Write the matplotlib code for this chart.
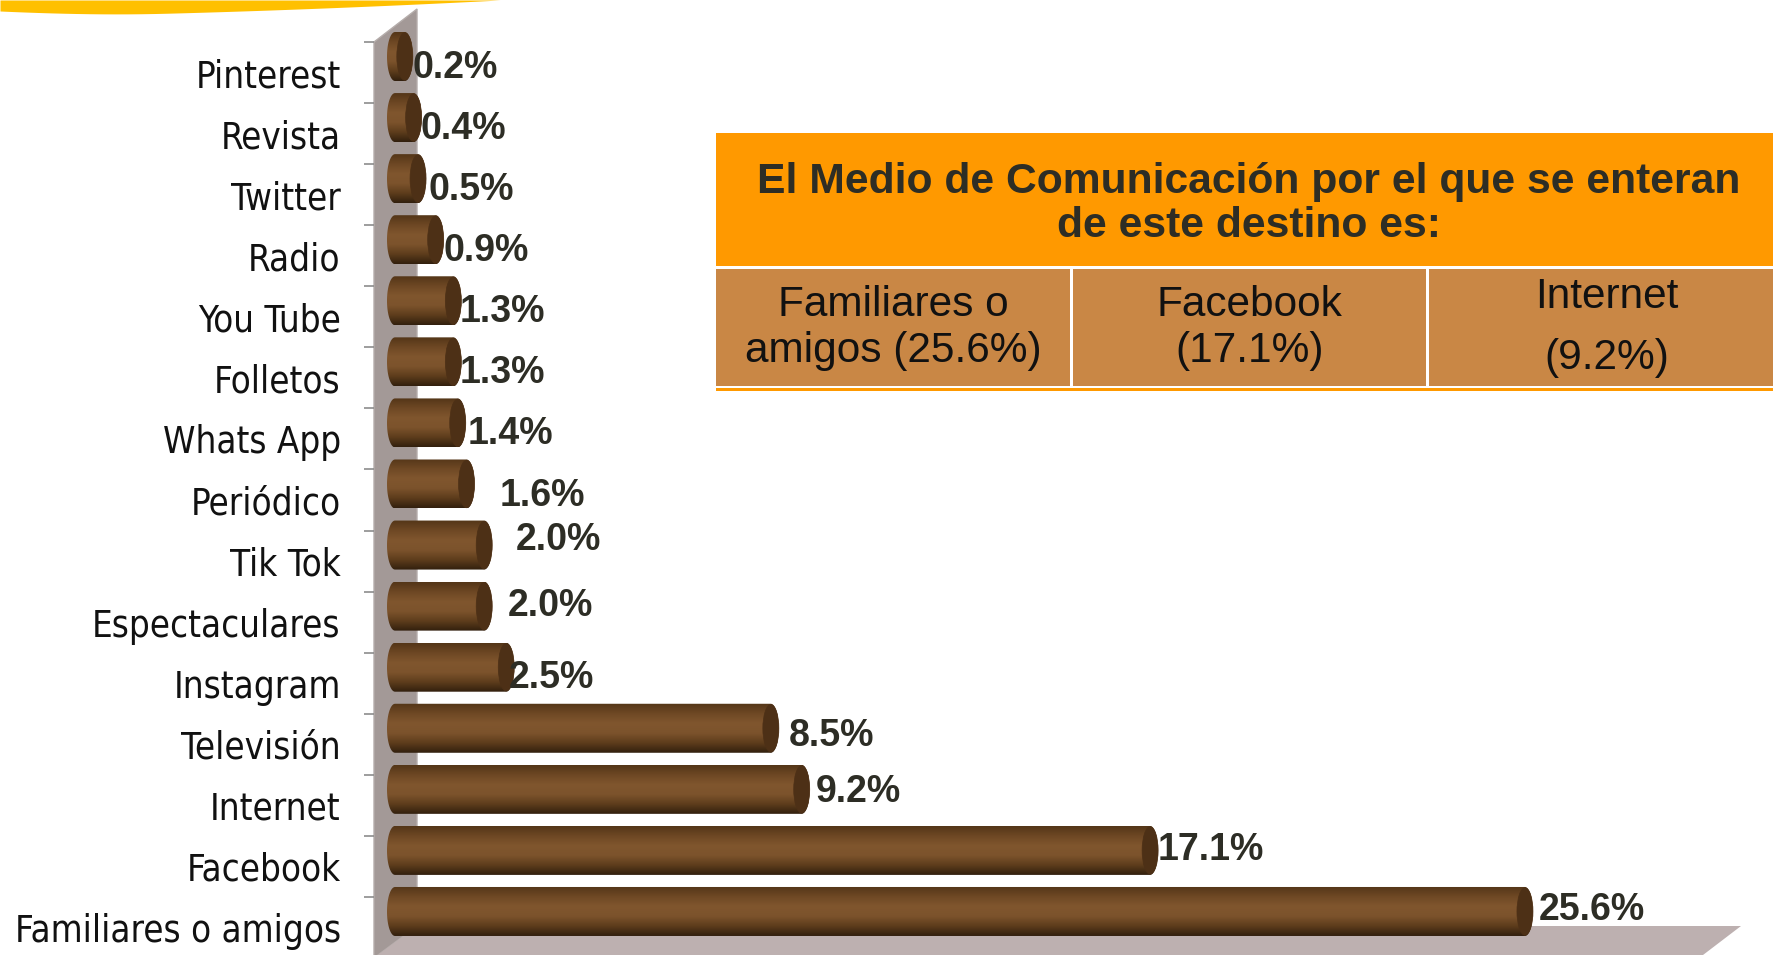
import numpy as np
import matplotlib
matplotlib.use('Agg')
import matplotlib.pyplot as plt
from matplotlib.colors import LinearSegmentedColormap
from matplotlib.patches import Polygon, Rectangle, PathPatch, Ellipse
from matplotlib.path import Path

medios = ['Pinterest', 'Revista', 'Twitter', 'Radio', 'You Tube', 'Folletos', 'Whats App',
          'Periódico', 'Tik Tok', 'Espectaculares', 'Instagram', 'Televisión', 'Internet',
          'Facebook', 'Familiares o amigos']
valores = [0.2, 0.4, 0.5, 0.9, 1.3, 1.3, 1.4, 1.6, 2.0, 2.0, 2.5, 8.5, 9.2, 17.1, 25.6]
etiquetas = ['0.2%', '0.4%', '0.5%', '0.9%', '1.3%', '1.3%', '1.4%', '1.6%', '2.0%', '2.0%',
             '2.5%', '8.5%', '9.2%', '17.1%', '25.6%']
titulo = 'El Medio de Comunicación por el que se enteran\nde este destino es:'
celdas = ['Familiares o\namigos (25.6%)', 'Facebook\n(17.1%)', 'Internet\n\n(9.2%)']

# the labels were moved by hand in the original, offsets in pixels
nudge_x = [0, -1, 2, 0, -2, -2, 2, 25, 24, 16, -5, 10, 6, 0, 6]
nudge_y = [11, 11, 11, 11, 11, 11, 11, 12, -5, 0, 11, 8, 3, 0, -1]

W, H = 1773, 955
PX = 44.1       # pixels per percent
X0 = 404        # pixel of 0%
ROW = 61.07
Y0 = 72.5       # pixel of first category

fig = plt.figure(figsize=(W / 100, H / 100), dpi=100, facecolor='white')

# background layer in pixels: swoosh, walls, table
bg = fig.add_axes([0, 0, 1, 1])
bg.set_xlim(0, W)
bg.set_ylim(H, 0)
bg.axis('off')

t = np.linspace(0, 1, 40)
sw_x = 500 * t
sw_y = 11 + 5 * np.sin(np.minimum(t * 3, 1) * np.pi / 2) - 16 * t ** 1.6
bg.fill_between(sw_x, 0, sw_y, color='#FFC000', lw=0)

bg.add_patch(Polygon([(374, 42), (417, 9), (417, 926), (374, 958)], fc='#A39997', ec='#B5ADAB', lw=1))
bg.add_patch(Polygon([(417, 926), (1741, 926), (1703, 955), (374, 958)], fc='#BDB0B0', ec='none'))

bg.add_patch(Rectangle((716, 133), W - 716, 133, fc='#FF9900', ec='none'))
cols = [(716, 1070), (1073, 1426), (1429, W)]
for (a, b), txt in zip(cols, celdas):
    bg.add_patch(Rectangle((a, 269), b - a, 117, fc='#C98745', ec='none'))
    if txt.count('\n') == 2:
        l1, l2 = txt.split('\n\n')
        bg.text((a + b) / 2 + 6, 297, l1, fontsize=30.5, family='Liberation Sans', ha='center', va='center', color='#111111')
        bg.text((a + b) / 2 + 6, 358, l2, fontsize=30.5, family='Liberation Sans', ha='center', va='center', color='#111111')
    else:
        bg.text((a + b) / 2, 328, txt, fontsize=30.5, family='Liberation Sans', ha='center', va='center',
                color='#111111', linespacing=1.17)
bg.add_patch(Rectangle((716, 388), W - 716, 3, fc='#FF9900', ec='none'))
bg.text(1249, 204, titulo, fontsize=30.7, family='Liberation Sans', weight='bold', ha='center', va='center',
        color='#2D2D25', linespacing=1.1)

# chart layer, full figure, data in percent / category index
ax = fig.add_axes([0, 0, 1, 1], facecolor='none')
ax.set_xlim(-X0 / PX, (W - X0) / PX)
ax.set_ylim((H - Y0) / ROW, -Y0 / ROW)

brown = LinearSegmentedColormap.from_list('cil', ['#543618', '#6E4824', '#80562E', '#7C532C', '#5E3D1C', '#33200E'])
grad = np.linspace(0, 1, 64).reshape(-1, 1)

bar_h = 49 / ROW
bar_off = 16 / ROW      # bars sit above the category centre (3D offset)
cap_w = 8 / PX
left = -17 / PX
a = np.linspace(-np.pi / 2, np.pi / 2, 30)

for i, (v, lab) in enumerate(zip(valores, etiquetas)):
    yc = i - bar_off
    xr = v - cap_w
    xl = left + cap_w
    xs = np.r_[xr + cap_w * np.cos(a), xl - cap_w * np.cos(a[::-1])]
    ys = np.r_[yc + bar_h / 2 * np.sin(a), yc + bar_h / 2 * np.sin(a[::-1])]
    body = PathPatch(Path(np.c_[xs, ys]), transform=ax.transData, fc='none', ec='none')
    ax.add_patch(body)
    im = ax.imshow(grad, cmap=brown, aspect='auto', interpolation='bilinear',
                   extent=(left, v, yc + bar_h / 2, yc - bar_h / 2), zorder=2)
    im.set_clip_path(body)
    ax.add_patch(Ellipse((xr, yc), 2 * cap_w, bar_h * 0.97, fc='#4D3016', ec='#4D3016', lw=0.5, zorder=3))
    ax.annotate(lab, (v, yc), xytext=(nudge_x[i], -nudge_y[i]), textcoords='offset pixels',
                fontsize=27, family='Liberation Sans', weight='bold', color='#2D2D25',
                ha='left', va='center', zorder=4)

ax.set_xlim(-X0 / PX, (W - X0) / PX)
ax.set_ylim((H - Y0) / ROW, -Y0 / ROW)

for s in ['top', 'right', 'bottom']:
    ax.spines[s].set_visible(False)
ax.spines['left'].set_position(('data', (374 - X0) / PX))
ax.spines['left'].set_visible(False)
ax.set_xticks([])
ax.set_yticks(range(len(medios)))
ax.set_yticklabels(medios, fontsize=26.3, family='DejaVu Sans', stretch='condensed', color='#111111')
ax.set_yticks(np.arange(len(medios)) - 0.5, minor=True)
ax.tick_params(axis='y', which='major', length=0, pad=24)
ax.tick_params(axis='y', which='minor', length=7.5, width=1.2, color='#8C8C8C')

fig.savefig('out.png', dpi=100)
